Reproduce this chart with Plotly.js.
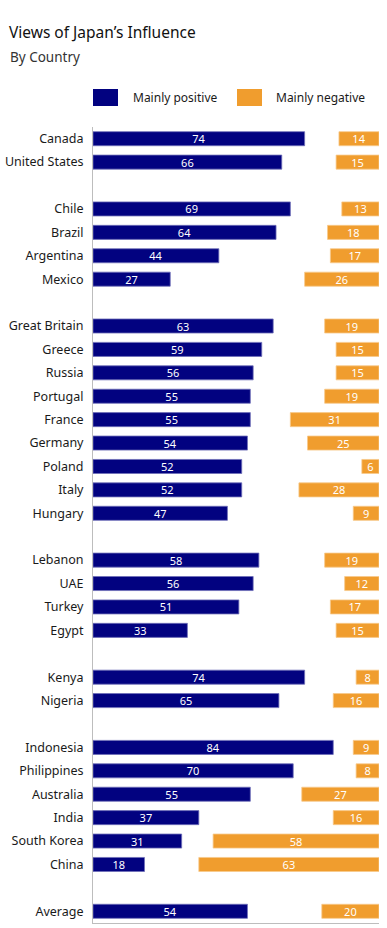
<!DOCTYPE html>
<html>
<head>
<meta charset="utf-8">
<script src="https://cdn.plot.ly/plotly-3.0.1.min.js"></script>
<style>html,body{margin:0;padding:0;background:#fff;}#chart{width:387px;height:928px;}</style>
</head>
<body>
<div id="chart"></div>
<script>
// ---- Data ----
const countries = ["Canada","United States",
  "Chile","Brazil","Argentina","Mexico",
  "Great Britain","Greece","Russia","Portugal","France","Germany","Poland","Italy","Hungary",
  "Lebanon","UAE","Turkey","Egypt",
  "Kenya","Nigeria",
  "Indonesia","Philippines","Australia","India","South Korea","China",
  "Average"];
const groupSizes = [2,4,9,4,2,6,1];
const positive = [74,66, 69,64,44,27, 63,59,56,55,55,54,52,52,47, 58,56,51,33, 74,65, 84,70,55,37,31,18, 54];
const negative = [14,15, 13,18,17,26, 19,15,15,19,31,25,6,28,9, 19,12,17,15, 8,16, 9,8,27,16,58,63, 20];
const seriesNames = ["Mainly positive","Mainly negative"];
const titleText = "Views of Japan’s Influence";
const subtitleText = "By Country";

// ---- Row positions (one blank slot between groups) ----
const rowPos = [];
let slot = 0;
groupSizes.forEach((n, g) => {
  for (let i = 0; i < n; i++) rowPos.push(slot++);
  slot++;
});

const NAVY = "#020280";
const ORANGE = "#F09D2E";
const FONT = "Noto Sans, sans-serif";
const XMAX = 100;

const posTrace = {
  type: "bar", orientation: "h", name: seriesNames[0],
  y: rowPos, x: positive, base: positive.map(() => 0),
  width: 0.6,
  marker: {color: NAVY, line: {color: "#6f6fb8", width: 0.8}},
  text: positive.map(String), textposition: "inside", insidetextanchor: "middle",
  textangle: 0, constraintext: "none",
  textfont: {color: "#ffffff", size: 11, family: FONT},
  hoverinfo: "skip"
};
const negTrace = {
  type: "bar", orientation: "h", name: seriesNames[1],
  y: rowPos, x: negative, base: negative.map(v => XMAX - v),
  width: 0.6,
  marker: {color: ORANGE, line: {color: "#f7c98c", width: 0.8}},
  text: negative.map(String), textposition: "inside", insidetextanchor: "middle",
  textangle: 0, constraintext: "none",
  textfont: {color: "#ffffff", size: 11, family: FONT},
  hoverinfo: "skip"
};

const W = 387, H = 928, mL = 93, mR = 8, mT = 127, mB = 5;
const pw = W - mL - mR, ph = H - mT - mB;
const px2x = p => (p - mL) / pw;
const py2y = p => (H - mB - p) / ph;

const layout = {
  width: W, height: H,
  margin: {l: mL, r: mR, t: mT, b: mB, pad: 0},
  paper_bgcolor: "#fff", plot_bgcolor: "#fff",
  showlegend: false,
  barmode: "overlay",
  font: {family: FONT, color: "#1a1a1a"},
  title: {text: titleText, xref: "container", yref: "container", x: 9/W, xanchor: "left",
          y: 1 - 33/H, yanchor: "middle", font: {size: 15.5, color: "#111", family: FONT}},
  xaxis: {range: [0, XMAX], showgrid: false, zeroline: false, showticklabels: false,
          showline: true, linecolor: "#bdbdbd", linewidth: 1, ticks: "", fixedrange: true},
  yaxis: {range: [slot - 1 - 0.5, -0.5], tickmode: "array", tickvals: rowPos, ticktext: countries,
          showgrid: false, zeroline: false, showline: true, linecolor: "#bdbdbd", linewidth: 1,
          ticks: "", ticklabelstandoff: 6, tickfont: {size: 12.5, color: "#1a1a1a", family: FONT},
          fixedrange: true},
  shapes: [
    {type: "rect", xref: "paper", yref: "paper", x0: px2x(93), x1: px2x(118), y0: py2y(106), y1: py2y(89),
     fillcolor: NAVY, line: {width: 0}},
    {type: "rect", xref: "paper", yref: "paper", x0: px2x(237), x1: px2x(262), y0: py2y(106), y1: py2y(89),
     fillcolor: ORANGE, line: {width: 0}}
  ],
  annotations: [
    {text: subtitleText, xref: "paper", yref: "paper", x: px2x(8), y: py2y(57), xanchor: "left", yanchor: "middle",
     showarrow: false, font: {size: 13.5, color: "#333", family: FONT}},
    {text: seriesNames[0], xref: "paper", yref: "paper", x: px2x(131), y: py2y(97.5), xanchor: "left", yanchor: "middle",
     showarrow: false, font: {size: 12, color: "#1a1a1a", family: FONT}},
    {text: seriesNames[1], xref: "paper", yref: "paper", x: px2x(274), y: py2y(97.5), xanchor: "left", yanchor: "middle",
     showarrow: false, font: {size: 12, color: "#1a1a1a", family: FONT}}
  ]
};

Plotly.newPlot("chart", [posTrace, negTrace], layout, {displayModeBar: false, staticPlot: true});
</script>
</body>
</html>
